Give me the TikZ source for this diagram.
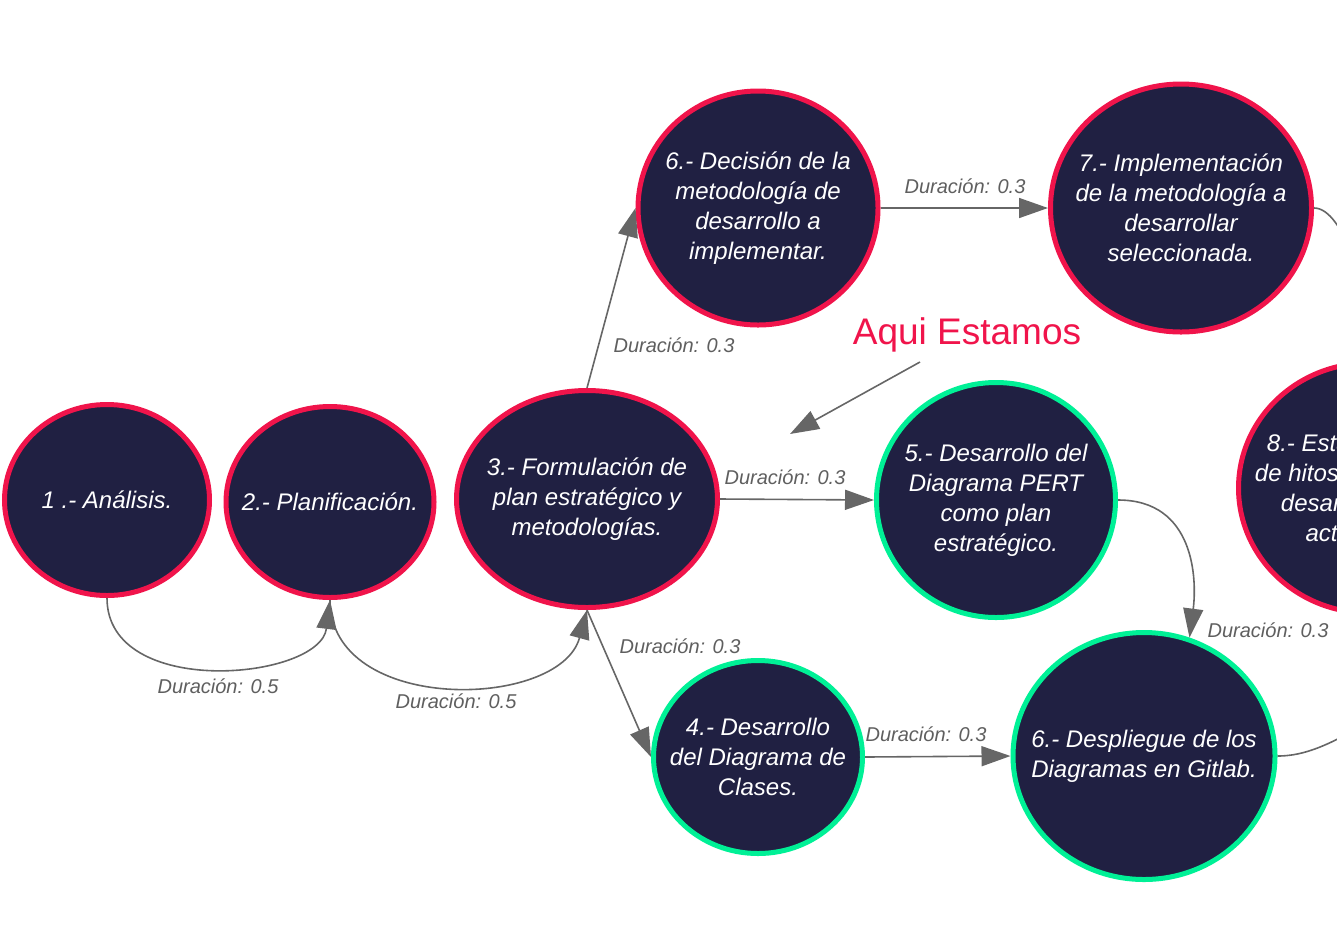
\documentclass[tikz,border=0pt]{standalone}
\usepackage{fontspec}
\setmainfont{Liberation Sans}
\usepackage{tikz}
\usetikzlibrary{arrows.meta, shapes.geometric, calc}
\definecolor{navy}{RGB}{32,32,66}
\definecolor{hotred}{RGB}{240,20,75}
\definecolor{mint}{RGB}{0,240,150}
\definecolor{linegray}{RGB}{102,102,102}
\definecolor{textgray}{RGB}{95,95,95}
\newcommand{\pertArrow}{{Triangle[length=29pt, width=20pt]}}

\begin{document}
\begin{tikzpicture}[x=1pt, y=-1pt, font=\itshape\fontsize{24}{30}\selectfont,
	tarea/.style={ellipse, fill=navy, line width=5pt, text=white, inner sep=-45pt, align=center},
	hecha/.style={tarea, draw=hotred},
	actual/.style={tarea, draw=mint},
	flecha/.style={draw=linegray, line width=1.6pt, -\pertArrow},
	dur/.style={text=textgray, font=\itshape\fontsize{20}{24}\selectfont}]
	\useasboundingbox (0,0) rectangle (1337,938);
	\clip (0,0) rectangle (1337,938);

	% nodos
	\node[hecha, minimum width=205, minimum height=191] (n1) at (107,500) {1 .- Análisis.};
	\node[hecha, minimum width=208, minimum height=191] (n2) at (330,502) {2.- Planificación.};
	\node[hecha, minimum width=261, minimum height=217] (n3) at (587,499) {3.- Formulación de\\plan estratégico y\\metodologías.};
	\node[hecha, minimum width=240, minimum height=234] (n6) at (758,208) {6.- Decisión de la\\metodología de\\desarrollo a\\implementar.};
	\node[hecha, minimum width=261, minimum height=248] (n7) at (1181,208) {7.- Implementación\\de la metodología a\\desarrollar\\seleccionada.};
	\node[actual, minimum width=239, minimum height=235] (n5) at (996,500) {5.- Desarrollo del\\Diagrama PERT\\como plan\\estratégico.};
	\node[actual, minimum width=209, minimum height=193] (n4) at (758,757) {4.- Desarrollo\\del Diagrama de\\Clases.};
	\node[actual, minimum width=262, minimum height=247] (n6b) at (1144,756) {6.- Despliegue de los\\Diagramas en Gitlab.};
	\node[hecha, minimum width=261, minimum height=250] (n8) at (1369,488) {8.- Establecimiento\\de hitos a lo largo del\\desarrollo de las\\actividades.};

	% conexiones
	\draw[flecha] (n1.south) .. controls (107,700) and (320,680) .. (n2.south);
	\draw[flecha] (n2.south) .. controls (330,715) and (560,710) .. (n3.south);
	\draw[flecha] (n3.north) -- (n6.west);
	\draw[flecha] (n3.east) -- (n5.west);
	\draw[flecha] (n3.south) -- (n4.west);
	\draw[flecha] (n6.east) -- (n7.west);
	\draw[flecha] (n4.east) -- (n6b.west);
	\draw[flecha] (n5.east) .. controls (1195,500) and (1197,580) .. (n6b.69);
	\draw[flecha] (n7.east) .. controls (1345,208) and (1369,300) .. (n8.north);
	\coordinate (sig) at (1420,690);
	\draw[flecha] (n6b.east) .. controls (1310,756) and (1340,740) .. (sig);

	% duraciones
	\node[dur] (d12) at (218,686) {Duración: 0.5};
	\node[dur] (d23) at (456,701) {Duración: 0.5};
	\node[dur] (d36) at (674,345) {Duración: 0.3};
	\node[dur] (d35) at (785,477) {Duración: 0.3};
	\node[dur] (d34) at (680,646) {Duración: 0.3};
	\node[dur] (d67) at (965,186) {Duración: 0.3};
	\node[dur] (d46) at (926,734) {Duración: 0.3};
	\node[dur] (d56) at (1268,630) {Duración: 0.3};

	% aqui estamos
	\node[text=hotred, font=\fontsize{37}{40}\selectfont] (aqui) at (967,335) {Aqui Estamos};
	\coordinate (aquiTail) at (920,362);
	\coordinate (aquiTip) at (790,434);
	\draw[flecha] (aquiTail) -- (aquiTip);
\end{tikzpicture}
\end{document}
